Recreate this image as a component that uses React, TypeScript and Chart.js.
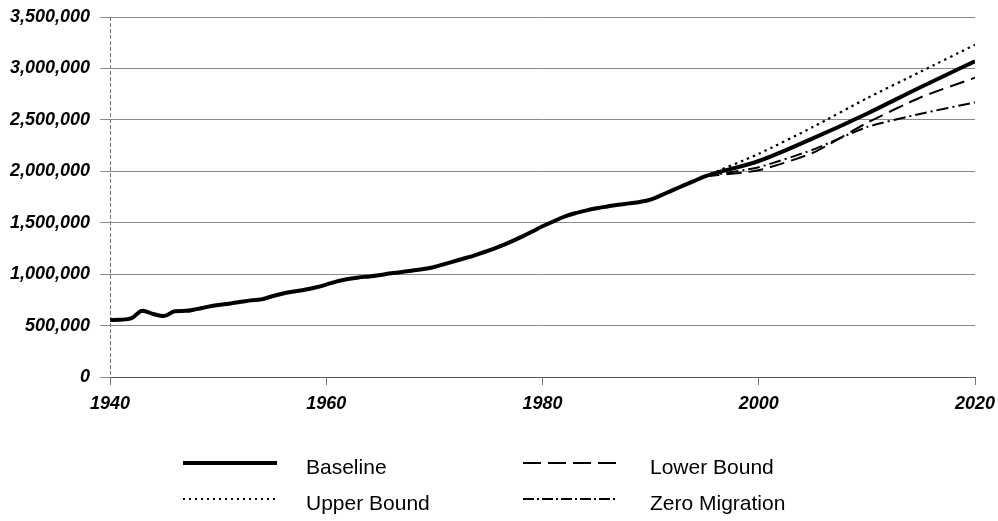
import { useEffect, useRef } from 'react';
import { Chart, registerables } from 'chart.js';

Chart.register(...registerables);

const historicalYears = [
  1940, 1941, 1942, 1943, 1944, 1945, 1946, 1947, 1948, 1949,
  1950, 1951, 1952, 1953, 1954, 1955, 1956, 1957, 1958, 1959,
  1960, 1961, 1962, 1963, 1964, 1965, 1966, 1967, 1968, 1969,
  1970, 1971, 1972, 1973, 1974, 1975, 1976, 1977, 1978, 1979,
  1980, 1981, 1982, 1983, 1984, 1985, 1986, 1987, 1988, 1989,
  1990, 1991, 1992, 1993, 1994, 1995,
];
const historicalPopulation = [
  555000, 557000, 572000, 645000, 612000, 592000, 640000, 643000, 660000, 682000,
  700000, 713000, 729000, 745000, 755000, 785000, 812000, 832000, 848000, 870000,
  898000, 930000, 952000, 968000, 978000, 992000, 1008000, 1020000, 1035000, 1050000,
  1070000, 1100000, 1130000, 1160000, 1193000, 1228000, 1268000, 1312000, 1360000, 1412000,
  1465000, 1512000, 1558000, 1592000, 1618000, 1640000, 1658000, 1675000, 1688000, 1702000,
  1725000, 1768000, 1815000, 1860000, 1905000, 1950000,
];

const projectionYears = [1995, 2000, 2005, 2010, 2015, 2020];
const baselineProjection = [1950000, 2100000, 2320000, 2560000, 2820000, 3070000];
const upperBound = [1950000, 2170000, 2430000, 2710000, 2970000, 3230000];
const lowerBound = [1950000, 2010000, 2180000, 2470000, 2720000, 2910000];
const zeroMigration = [1950000, 2040000, 2210000, 2430000, 2560000, 2670000];

const xTickValues = [1940, 1960, 1980, 2000, 2020];
const yMax = 3500000;
const yStep = 500000;

const legendLabels = ['Baseline', 'Upper Bound', 'Lower Bound', 'Zero Migration'];

const FONT = "'Liberation Sans', Arial, Helvetica, sans-serif";

const toPoints = (xs: number[], ys: number[]) => xs.map((x, i) => ({ x, y: ys[i] }));

export default function App() {
  const ref = useRef<HTMLCanvasElement>(null);

  useEffect(() => {
    const baselinePoints = [
      ...toPoints(historicalYears, historicalPopulation),
      ...toPoints(projectionYears.slice(1), baselineProjection.slice(1)),
    ];
    const chart = new Chart(ref.current!, {
      type: 'line',
      data: {
        datasets: [
          {
            label: legendLabels[0],
            data: baselinePoints,
            borderColor: '#000',
            borderWidth: 4,
            cubicInterpolationMode: 'monotone',
            pointRadius: 0,
            order: 0,
          },
          {
            label: legendLabels[1],
            data: toPoints(projectionYears, upperBound),
            borderColor: '#000',
            borderWidth: 2.2,
            borderDash: [2.5, 4],
            tension: 0.2,
            pointRadius: 0,
            order: 1,
          },
          {
            label: legendLabels[2],
            data: toPoints(projectionYears, lowerBound),
            borderColor: '#000',
            borderWidth: 2,
            borderDash: [15, 7],
            tension: 0.2,
            pointRadius: 0,
            order: 2,
          },
          {
            label: legendLabels[3],
            data: toPoints(projectionYears, zeroMigration),
            borderColor: '#000',
            borderWidth: 2,
            borderDash: [12, 4, 2, 4],
            tension: 0.2,
            pointRadius: 0,
            order: 3,
          },
        ],
      },
      options: {
        animation: false,
        responsive: false,
        parsing: false as any,
        layout: { padding: { top: 17, right: 23, left: 0, bottom: 0 } },
        plugins: { legend: { display: false }, tooltip: { enabled: false } },
        scales: {
          x: {
            type: 'linear',
            min: 1940,
            max: 2020,
            afterFit: (s: any) => { s.height = 53; s.paddingLeft = 0; s.paddingRight = 0; },
            afterBuildTicks: (s: any) => { s.ticks = xTickValues.map((v) => ({ value: v })); },
            ticks: {
              callback: (v: any) => String(v),
              color: '#000',
              padding: 8,
              maxRotation: 0,
              font: { family: FONT, size: 18, style: 'italic', weight: 'bold' },
            },
            grid: {
              drawOnChartArea: true,
              color: (c: any) => (c.tick && c.tick.value === 1940 ? '#777' : 'rgba(0,0,0,0)'),
              tickColor: '#777',
              tickLength: 8,
            },
            border: { color: '#555', width: 1, dash: [4, 2] },
          },
          y: {
            min: 0,
            max: yMax,
            afterFit: (s: any) => { s.width = 110; s.paddingTop = 0; s.paddingBottom = 0; },
            ticks: {
              stepSize: yStep,
              callback: (v: any) => Number(v).toLocaleString('en-US'),
              color: '#000',
              padding: 10,
              font: { family: FONT, size: 18, style: 'italic', weight: 'bold' },
            },
            grid: { color: '#8a8a8a', tickLength: 10, lineWidth: 1 },
            border: { display: false },
          },
        },
      },
    });
    return () => chart.destroy();
  }, []);

  const textStyle = { fontFamily: FONT, fontSize: 21, fill: '#000' } as const;

  return (
    <div style={{ position: 'absolute', left: 0, top: 0, width: 998, height: 521, background: '#fff' }}>
      <canvas ref={ref} width={998} height={430} style={{ display: 'block' }} />
      <svg width={998} height={521} style={{ position: 'absolute', left: 0, top: 0, pointerEvents: 'none' }}>
        <line x1={183} y1={463} x2={277} y2={463} stroke="#000" strokeWidth={4} />
        <line x1={183} y1={499} x2={277} y2={499} stroke="#000" strokeWidth={2} strokeDasharray="2 4" />
        <line x1={523} y1={463} x2={617} y2={463} stroke="#000" strokeWidth={2} strokeDasharray="18 7" />
        <line x1={523} y1={499} x2={617} y2={499} stroke="#000" strokeWidth={2} strokeDasharray="11 3 2 3" />
        <text x={306} y={466} dominantBaseline="central" style={textStyle}>{legendLabels[0]}</text>
        <text x={306} y={502} dominantBaseline="central" style={textStyle}>{legendLabels[1]}</text>
        <text x={650} y={466} dominantBaseline="central" style={textStyle}>{legendLabels[2]}</text>
        <text x={650} y={502} dominantBaseline="central" style={textStyle}>{legendLabels[3]}</text>
      </svg>
    </div>
  );
}
